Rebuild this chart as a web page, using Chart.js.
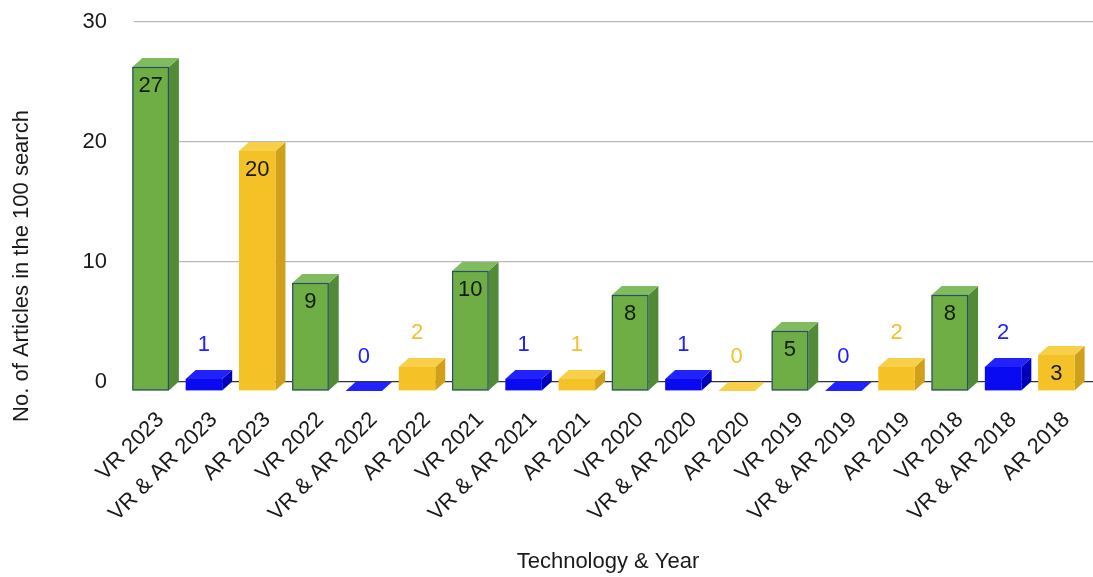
<!DOCTYPE html>
<html>
<head>
<meta charset="utf-8">
<script src="https://cdn.jsdelivr.net/npm/chart.js@4.4.1/dist/chart.umd.min.js"></script>
<style>
  html, body { margin: 0; padding: 0; background: #ffffff; }
  #wrap { width: 1093px; height: 577px; }
</style>
</head>
<body>
<div id="wrap"><canvas id="c" width="1093" height="577"></canvas></div>
<script>
// ---- data ----
const years = ['2023', '2022', '2021', '2020', '2019', '2018'];
const vrValues = [27, 9, 10, 8, 5, 8];
const vrArValues = [1, 0, 1, 1, 0, 2];
const arValues = [20, 2, 1, 0, 2, 3];
const seriesNames = ['VR', 'VR & AR', 'AR'];
const yTicks = [0, 10, 20, 30];
const xTitle = 'Technology & Year';
const yTitle = 'No. of Articles in the 100 search';

// build interleaved categories
const categories = [];
const values = [];
const kinds = [];
years.forEach((yr, i) => {
  [vrValues, vrArValues, arValues].forEach((arr, k) => {
    categories.push(seriesNames[k] + ' ' + yr);
    values.push(arr[i]);
    kinds.push(k);
  });
});

// ---- styles ----
const FONT = '"Liberation Sans", Arial, sans-serif';
const DX = 10, DY = 9;
const palette = [
  { front: '#6fad45', side: '#528a38', top: '#80bb5e', stroke: '#2a4f6b', label: '#1a8cff' },
  { front: '#0a0af2', side: '#0000b8', top: '#2222ff', stroke: null, label: '#2020ff' },
  { front: '#f4c226', side: '#d0a01a', top: '#f7cf48', stroke: null, label: '#f0c030' }
];

function poly(ctx, pts) {
  ctx.beginPath();
  ctx.moveTo(pts[0][0], pts[0][1]);
  for (let i = 1; i < pts.length; i++) ctx.lineTo(pts[i][0], pts[i][1]);
  ctx.closePath();
  ctx.fill();
}

const bar3d = {
  id: 'bar3d',
  afterDatasetsDraw(chart) {
    const ctx = chart.ctx;
    const meta = chart.getDatasetMeta(0);
    ctx.save();
    meta.data.forEach((el, i) => {
      const p = el.getProps(['x', 'y', 'base', 'width'], true);
      const xl = p.x - p.width / 2, xr = p.x + p.width / 2;
      const fxl = xl - DX, fxr = xr - DX, fy = p.y + DY, fb = p.base + DY;
      const c = palette[kinds[i]];
      // side face
      ctx.fillStyle = c.side;
      poly(ctx, [[fxr, fy], [xr, p.y], [xr, p.base], [fxr, fb]]);
      // top face
      ctx.fillStyle = c.top;
      poly(ctx, [[fxl, fy], [xl, p.y], [xr, p.y], [fxr, fy]]);
      // front face
      if (fb - fy > 0.5) {
        ctx.fillStyle = c.front;
        ctx.fillRect(fxl, fy, p.width, fb - fy);
        if (c.stroke) {
          ctx.strokeStyle = c.stroke;
          ctx.lineWidth = 1.2;
          ctx.strokeRect(fxl + 0.5, fy + 0.5, p.width - 1, fb - fy - 1);
        }
      }
      // data label
      const v = values[i];
      ctx.font = '22px ' + FONT;
      ctx.textAlign = 'center';
      ctx.textBaseline = 'middle';
      const cx = p.x - DX;
      if (v >= 3) {
        ctx.fillStyle = '#141a14';
        ctx.fillText(String(v), cx, fy + 19);
      } else {
        ctx.fillStyle = c.label;
        ctx.fillText(String(v), cx, fy - 34);
      }
    });
    ctx.restore();
  },
  afterDraw(chart) {
    const ctx = chart.ctx;
    ctx.save();
    ctx.fillStyle = '#1a1a1a';
    ctx.font = '22px ' + FONT;
    ctx.textAlign = 'center';
    ctx.textBaseline = 'middle';
    ctx.fillText(xTitle, 608, 562);
    ctx.translate(22, 266);
    ctx.rotate(-Math.PI / 2);
    ctx.fillText(yTitle, 0, 0);
    ctx.restore();
  }
};

new Chart(document.getElementById('c'), {
  type: 'bar',
  data: {
    labels: categories,
    datasets: [{
      data: values,
      backgroundColor: 'rgba(0,0,0,0)',
      borderWidth: 0,
      barPercentage: 0.685,
      categoryPercentage: 1.0
    }]
  },
  options: {
    responsive: false,
    devicePixelRatio: 1,
    animation: false,
    events: [],
    layout: { padding: { top: 22, right: 0, left: 0, bottom: 0 } },
    plugins: { legend: { display: false }, tooltip: { enabled: false }, title: { display: false } },
    scales: {
      x: {
        offset: true,
        grid: { display: false },
        border: { display: false },
        ticks: {
          autoSkip: false,
          maxRotation: 45,
          minRotation: 45,
          padding: 17,
          color: '#1a1a1a',
          font: { family: FONT, size: 22 }
        },
        afterFit(scale) {
          scale.height = 195;
          scale.paddingLeft = 0;
          scale.paddingRight = 0;
        }
      },
      y: {
        min: 0,
        max: 30,
        afterBuildTicks(scale) { scale.ticks = yTicks.map(v => ({ value: v })); },
        grid: {
          drawTicks: false,
          color: (c) => (c.tick && c.tick.value === 0 ? '#333333' : '#b8b8b8'),
          lineWidth: 1.2
        },
        border: { display: false },
        ticks: {
          padding: 27,
          color: '#1a1a1a',
          font: { family: FONT, size: 22 }
        },
        afterFit(scale) {
          scale.width = 134;
          scale.paddingTop = 0;
          scale.paddingBottom = 0;
        }
      }
    }
  },
  plugins: [bar3d]
});
</script>
</body>
</html>
